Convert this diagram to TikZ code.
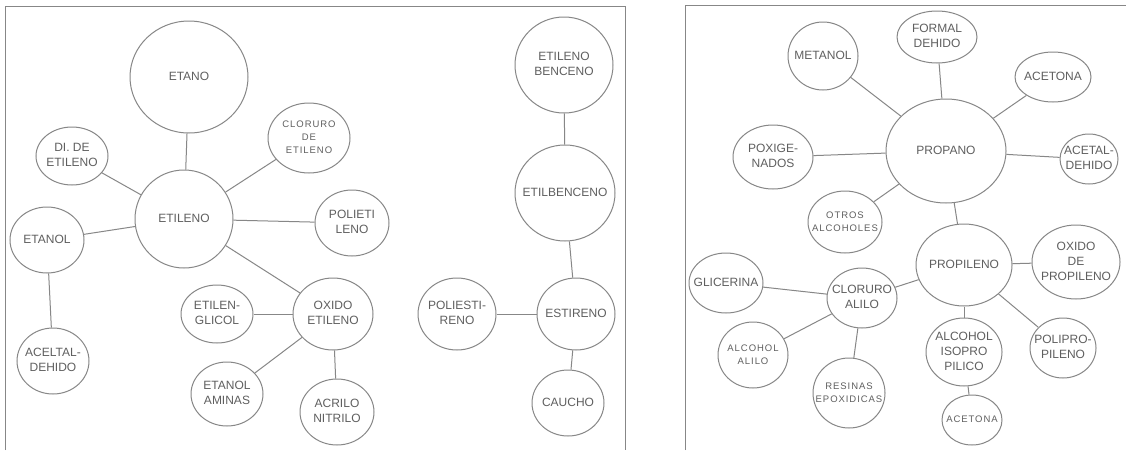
\documentclass[tikz,border=0pt]{standalone}
\usepackage{fontspec}
\setmainfont{Liberation Sans}
\newfontfamily\smallsans[LetterSpace=10]{Liberation Sans}
\usetikzlibrary{shapes.geometric}

\definecolor{linegray}{RGB}{135,135,135}
\definecolor{txtgray}{RGB}{95,95,95}

% text of a bubble, kept from widening the ellipse
\newcommand{\bubtxt}[1]{\makebox[0pt]{\begin{tabular}{@{}c@{}}#1\end{tabular}}}

\tikzset{
  bub/.style 2 args={ellipse, draw=linegray, line width=1pt, inner sep=0pt,
    minimum width=#1pt, minimum height=#2pt, text=txtgray,
    font=\fontsize{12}{15}\selectfont},
  smalltxt/.style={font=\smallsans\fontsize{9.5}{13}\selectfont},
  lnk/.style={draw=linegray, line width=1pt},
  frame/.style={draw=linegray, line width=1pt}
}

\begin{document}
\begin{tikzpicture}[x=1pt, y=-1pt]
    \useasboundingbox (0,0) rectangle (1126,450);
    \fill[white] (0,0) rectangle (1126,450);

    % frames
    \draw[frame] (5,450) -- (5,6) -- (625,6) -- (625,450);
    \draw[frame] (685,450) -- (685,5) -- (1126,5);

    % etileno
    \node[bub={118}{112}] (etano) at (189,77) {\bubtxt{ETANO}};
    \node[bub={98}{98}] (etileno) at (184,219) {\bubtxt{ETILENO}};
    \node[bub={72}{58}] (dicloro) at (72,156) {\bubtxt{DI. DE\\ETILENO}};
    \node[bub={82}{70}, smalltxt] (clorEt) at (309,138) {\bubtxt{CLORURO\\DE\\ETILENO}};
    \node[bub={74}{66}] (polietileno) at (352,223) {\bubtxt{POLIETI\\LENO}};
    \node[bub={74}{66}] (etanol) at (47,240) {\bubtxt{ETANOL}};
    \node[bub={72}{66}] (acetal) at (53,361) {\bubtxt{ACELTAL-\\DEHIDO}};
    \node[bub={72}{58}] (glicol) at (217,314) {\bubtxt{ETILEN-\\GLICOL}};
    \node[bub={80}{72}] (oxEt) at (333,314) {\bubtxt{OXIDO\\ETILENO}};
    \node[bub={72}{64}] (aminas) at (227,394) {\bubtxt{ETANOL\\AMINAS}};
    \node[bub={74}{66}] (acrilo) at (337,412) {\bubtxt{ACRILO\\NITRILO}};

    \draw[lnk] (etano) -- (etileno);
    \draw[lnk] (dicloro) -- (etileno);
    \draw[lnk] (clorEt) -- (etileno);
    \draw[lnk] (polietileno) -- (etileno);
    \draw[lnk] (etanol) -- (etileno);
    \draw[lnk] (etanol) -- (acetal);
    \draw[lnk] (etileno) -- (oxEt);
    \draw[lnk] (glicol) -- (oxEt);
    \draw[lnk] (oxEt) -- (aminas);
    \draw[lnk] (oxEt) -- (acrilo);

    % benceno
    \node[bub={98}{96}] (etBenceno) at (564,65) {\bubtxt{ETILENO\\BENCENO}};
    \node[bub={100}{96}] (etilbenceno) at (565,193) {\bubtxt{ETILBENCENO}};
    \node[bub={78}{72}] (estireno) at (576,314) {\bubtxt{ESTIRENO}};
    \node[bub={78}{72}] (poliestireno) at (457,314) {\bubtxt{POLIESTI-\\RENO}};
    \node[bub={72}{66}] (caucho) at (568,403) {\bubtxt{CAUCHO}};

    \draw[lnk] (etBenceno) -- (etilbenceno);
    \draw[lnk] (etilbenceno) -- (estireno);
    \draw[lnk] (poliestireno) -- (estireno);
    \draw[lnk] (estireno) -- (caucho);

    % propano
    \node[bub={120}{104}] (propano) at (946,151) {\bubtxt{PROPANO}};
    \node[bub={70}{68}] (metanol) at (823,56) {\bubtxt{METANOL}};
    \node[bub={80}{52}] (formal) at (937,37) {\bubtxt{FORMAL\\DEHIDO}};
    \node[bub={76}{50}] (acetonaA) at (1053,77) {\bubtxt{ACETONA}};
    \node[bub={58}{50}] (acetald) at (1089,159) {\bubtxt{ACETAL-\\DEHIDO}};
    \node[bub={80}{64}] (poxig) at (773,157) {\bubtxt{POXIGE-\\NADOS}};
    \node[bub={74}{62}, smalltxt] (otros) at (845,222) {\bubtxt{OTROS\\ALCOHOLES}};
    \node[bub={96}{82}] (propileno) at (964,265) {\bubtxt{PROPILENO}};
    \node[bub={88}{74}] (oxProp) at (1076,262) {\bubtxt{OXIDO\\DE\\PROPILENO}};
    \node[bub={74}{60}] (glicerina) at (726,283) {\bubtxt{GLICERINA}};
    \node[bub={70}{60}] (clorAlilo) at (862,298) {\bubtxt{CLORURO\\ALILO}};
    \node[bub={70}{66}, smalltxt] (alcAlilo) at (753,355) {\bubtxt{ALCOHOL\\ALILO}};
    \node[bub={72}{70}, smalltxt] (resinas) at (849,393) {\bubtxt{RESINAS\\EPOXIDICAS}};
    \node[bub={76}{68}] (isoprop) at (964,352) {\bubtxt{ALCOHOL\\ISOPRO\\PILICO}};
    \node[bub={60}{50}, smalltxt] (acetonaB) at (972,420) {\bubtxt{ACETONA}};
    \node[bub={66}{60}] (polipro) at (1063,348) {\bubtxt{POLIPRO-\\PILENO}};

    \draw[lnk] (metanol) -- (propano);
    \draw[lnk] (formal) -- (propano);
    \draw[lnk] (acetonaA) -- (propano);
    \draw[lnk] (acetald) -- (propano);
    \draw[lnk] (poxig) -- (propano);
    \draw[lnk] (otros) -- (propano);
    \draw[lnk] (propano) -- (propileno);
    \draw[lnk] (propileno) -- (oxProp);
    \draw[lnk] (propileno) -- (clorAlilo);
    \draw[lnk] (glicerina) -- (clorAlilo);
    \draw[lnk] (clorAlilo) -- (alcAlilo);
    \draw[lnk] (clorAlilo) -- (resinas);
    \draw[lnk] (propileno) -- (isoprop);
    \draw[lnk] (propileno) -- (polipro);
    \draw[lnk] (isoprop) -- (acetonaB);
\end{tikzpicture}
\end{document}
